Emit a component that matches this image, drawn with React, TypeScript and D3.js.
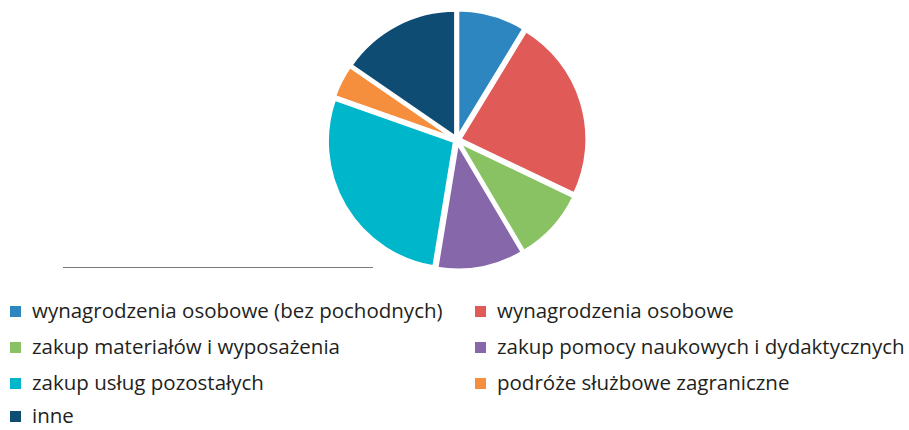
import React from "react";
import * as d3 from "d3";

const categories = [
  "wynagrodzenia osobowe (bez pochodnych)",
  "wynagrodzenia osobowe",
  "zakup materiałów i wyposażenia",
  "zakup pomocy naukowych i dydaktycznych",
  "zakup usług pozostałych",
  "podróże służbowe zagraniczne",
  "inne",
];
const values = [8.7, 23.4, 9.4, 11.1, 27.8, 4.2, 15.4];
const colors = ["#2e86c1", "#e05a57", "#88c262", "#8668aa", "#00b6ca", "#f58f3e", "#0e4c74"];

const width = 909;
const height = 430;
const cx = 457;
const cy = 140;
const radius = 127;

export default function App() {
  const pie = d3.pie<number>().sort(null).value((d) => d);
  const arcs = pie(values);
  const arc = d3.arc<d3.PieArcDatum<number>>().innerRadius(0).outerRadius(radius);

  // legend positions, two columns
  const colX = [10, 475];
  const rowY = [311, 347, 383, 416];

  return (
    <svg width={width} height={height} style={{ position: "absolute", left: 0, top: 0 }}>
      <g transform={`translate(${cx},${cy})`}>
        {arcs.map((a, i) => {
          const mid = (a.startAngle + a.endAngle) / 2;
          const off = 3;
          return (
            <path
              key={i}
              d={arc(a) || ""}
              fill={colors[i]}
              stroke="#fff"
              strokeWidth={3}
              strokeLinejoin="miter"
              transform={`translate(${Math.sin(mid) * off},${-Math.cos(mid) * off})`}
            />
          );
        })}
      </g>
      <line x1={63} x2={373} y1={267.5} y2={267.5} stroke="#7a7a7a" strokeWidth={1.2} />
      {categories.map((c, i) => {
        const x = colX[i % 2];
        const y = rowY[Math.floor(i / 2)];
        return (
          <g key={c}>
            <rect x={x} y={y - 5} width={11} height={11} fill={colors[i]} />
            <text
              x={x + 22}
              y={y}
              dy="0.35em"
              fontFamily="'Open Sans', sans-serif"
              fontSize={20.5}
              fill="#231f20"
            >
              {c}
            </text>
          </g>
        );
      })}
    </svg>
  );
}
